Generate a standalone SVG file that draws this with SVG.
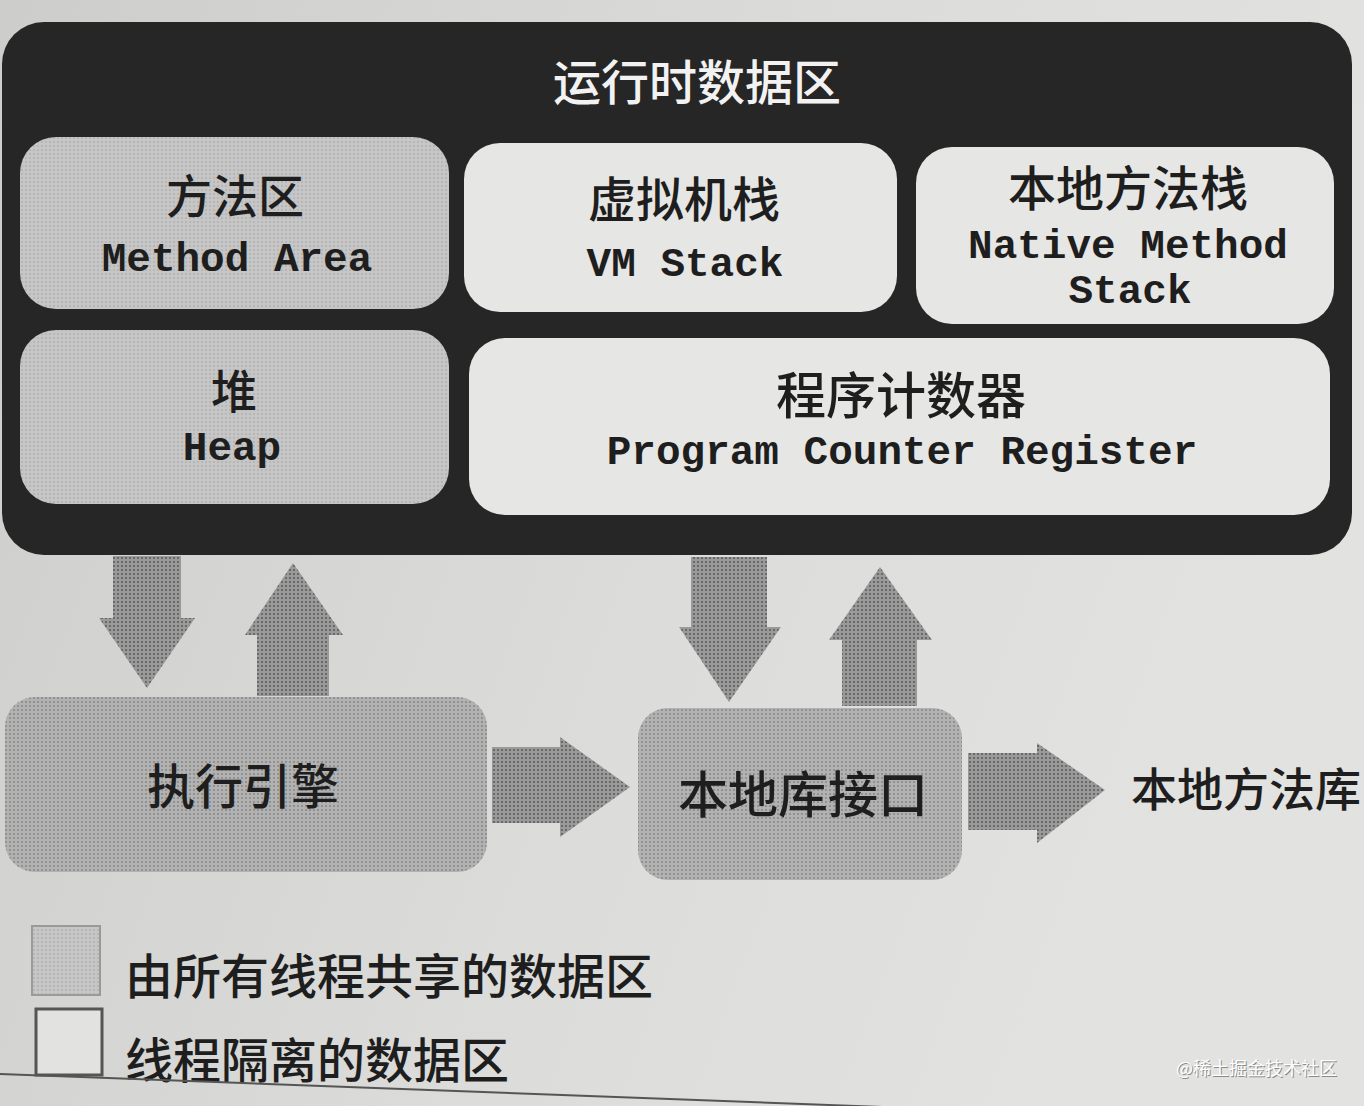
<svg xmlns="http://www.w3.org/2000/svg" width="1364" height="1106" viewBox="0 0 1364 1106">
<defs>
<linearGradient id="paper" x1="0" y1="0" x2="1" y2="0.3">
<stop offset="0" stop-color="#cdcdcb"/>
<stop offset="0.6" stop-color="#dcdcda"/>
<stop offset="1" stop-color="#e2e2e0"/>
</linearGradient>
<pattern id="dots" width="4" height="4" patternUnits="userSpaceOnUse">
<rect width="4" height="4" fill="#9a9a9a"/>
<circle cx="2" cy="2" r="1.1" fill="#5e5e5e"/>
</pattern>
<pattern id="dotsLight" width="4" height="4" patternUnits="userSpaceOnUse">
<rect width="4" height="4" fill="#c6c6c6"/>
<circle cx="2" cy="2" r="0.8" fill="#a2a2a2"/>
</pattern>
<pattern id="dotsMid" width="4" height="4" patternUnits="userSpaceOnUse">
<rect width="4" height="4" fill="#b2b2b2"/>
<circle cx="2" cy="2" r="1" fill="#868686"/>
</pattern>
</defs>
<style>
.cn{font-family:"Noto Sans CJK SC","Noto Sans",sans-serif;font-weight:500;fill:#1e1e1e;text-anchor:middle}
.en{font-family:"Liberation Mono","DejaVu Sans Mono",monospace;font-weight:bold;fill:#1e1e1e;text-anchor:middle}
.shared{fill:url(#dotsLight)}
.iso{fill:#e6e6e4}
.arrow{fill:url(#dots)}
.lower{fill:url(#dotsMid)}
</style>
<rect x="0" y="0" width="1364" height="1106" fill="url(#paper)"/>

<g id="runtime-data-area">
<rect x="2" y="22" width="1350" height="533" rx="42" fill="#262626"/>
<text x="697" y="100" class="cn" font-size="48" style="fill:#f2f2f2">运行时数据区</text>
</g>

<g id="method-area">
<rect x="20" y="137" width="429" height="172" rx="36" class="shared"/>
<text x="235" y="213" class="cn" font-size="46">方法区</text>
<text x="237" y="271" class="en" font-size="41">Method Area</text>
</g>

<g id="vm-stack">
<rect x="464" y="143" width="433" height="169" rx="36" class="iso"/>
<text x="684" y="217" class="cn" font-size="48">虚拟机栈</text>
<text x="685" y="276" class="en" font-size="41">VM Stack</text>
</g>

<g id="native-method-stack">
<rect x="916" y="147" width="418" height="177" rx="36" class="iso"/>
<text x="1128" y="206" class="cn" font-size="48">本地方法栈</text>
<text x="1128" y="258" class="en" font-size="41">Native Method</text>
<text x="1130" y="303" class="en" font-size="41">Stack</text>
</g>

<g id="heap">
<rect x="20" y="330" width="429" height="174" rx="36" class="shared"/>
<text x="234" y="408" class="cn" font-size="46">堆</text>
<text x="232" y="460" class="en" font-size="41">Heap</text>
</g>

<g id="program-counter-register">
<rect x="469" y="338" width="861" height="177" rx="36" class="iso"/>
<text x="901" y="414" class="cn" font-size="50">程序计数器</text>
<text x="902" y="464" class="en" font-size="41">Program Counter Register</text>
</g>

<g id="execution-engine">
<rect x="5" y="697" width="482" height="175" rx="30" class="lower"/>
<text x="243" y="804" class="cn" font-size="48">执行引擎</text>
</g>

<g id="native-interface">
<rect x="638" y="708" width="324" height="172" rx="30" class="lower"/>
<text x="803" y="813" class="cn" font-size="50">本地库接口</text>
</g>

<g id="native-libraries">
<text x="1131" y="806" class="cn" font-size="46" style="text-anchor:start">本地方法库</text>
</g>

<g id="connectors">
<polygon class="arrow" points="113,556 181,556 181,618 195,618 147,688 99,618 113,618"/>
<polygon class="arrow" points="293,563 343,635 329,635 329,696 257,696 257,635 245,635"/>
<polygon class="arrow" points="691,557 767,557 767,627 781,627 729,702 679,627 691,627"/>
<polygon class="arrow" points="880,567 932,640 917,640 917,706 842,706 842,640 829,640"/>
<polygon class="arrow" points="492,747 560,747 560,737 630,787 560,837 560,823 492,823"/>
<polygon class="arrow" points="968,753 1037,753 1037,743 1105,790 1037,843 1037,830 968,830"/>
</g>

<g id="legend">
<rect x="32" y="926" width="68" height="69" fill="url(#dotsLight)" stroke="#9a9a9a" stroke-width="2"/>
<text x="125" y="994" class="cn" font-size="48" style="text-anchor:start">由所有线程共享的数据区</text>
<rect x="36" y="1009" width="66" height="66" fill="#e2e2e0" stroke="#555" stroke-width="3"/>
<text x="125" y="1078" class="cn" font-size="48" style="text-anchor:start">线程隔离的数据区</text>
</g>

<line x1="0" y1="1074" x2="1364" y2="1125" stroke="#555" stroke-width="2"/>
<text x="1177" y="1076" font-family="'Noto Sans CJK SC',sans-serif" font-size="18" fill="#8a8a8a">@稀土掘金技术社区</text>
<text x="1176" y="1075" font-family="'Noto Sans CJK SC',sans-serif" font-size="18" fill="#ffffff">@稀土掘金技术社区</text>
</svg>
